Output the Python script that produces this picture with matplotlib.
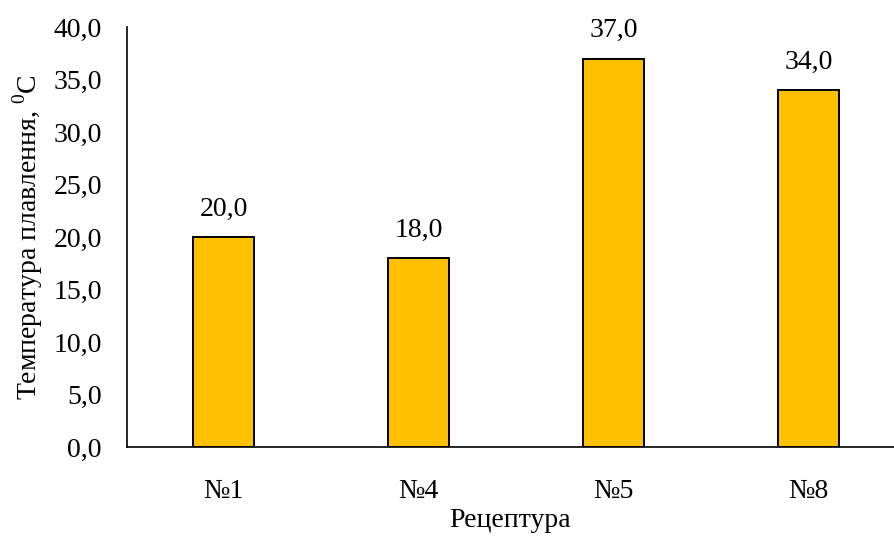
import numpy as np
import matplotlib
matplotlib.use("Agg")
import matplotlib.pyplot as plt
from matplotlib.ticker import FuncFormatter

# recipes and their melting temperatures
recipes = ["№1", "№4", "№5", "№8"]
melt_temp = [20.0, 18.0, 37.0, 34.0]
y_ticks = [0, 5, 10, 15, 20, 25, 30, 35, 40]

plt.rcParams["font.family"] = ["Liberation Serif", "DejaVu Serif"]
plt.rcParams["mathtext.fontset"] = "custom"
plt.rcParams["mathtext.rm"] = "Liberation Serif"
plt.rcParams["font.size"] = 20


def comma(v, _=None):
    return f"{v:.1f}".replace(".", ",")


fig = plt.figure(figsize=(8.94, 5.37), dpi=100)
ax = fig.add_axes([127 / 894, 90 / 537, 1 - 127 / 894, 420 / 537])

x = np.arange(len(recipes))
bars = ax.bar(x, melt_temp, width=0.31, color="#FFC000", edgecolor="black", linewidth=1.4, zorder=3)
ax.bar_label(bars, labels=[comma(v) for v in melt_temp], padding=11)

ax.set_xlim(-0.495, 3.438)
ax.set_ylim(0, 40)
ax.set_yticks(y_ticks)
ax.yaxis.set_major_formatter(FuncFormatter(comma))
ax.set_xticks(x)
ax.set_xticklabels(recipes)
ax.tick_params(axis="y", length=0, pad=18)
ax.tick_params(axis="x", length=0, pad=23)

for s in ("top", "right"):
    ax.spines[s].set_visible(False)
for s in ("left", "bottom"):
    ax.spines[s].set_linewidth(1.2)
    ax.spines[s].set_color("black")

ax.set_xlabel("Рецептура", labelpad=3)
ax.set_ylabel(r"Температура плавлення, $^{0}$C", labelpad=6)

fig.savefig("out.png", dpi=100)
